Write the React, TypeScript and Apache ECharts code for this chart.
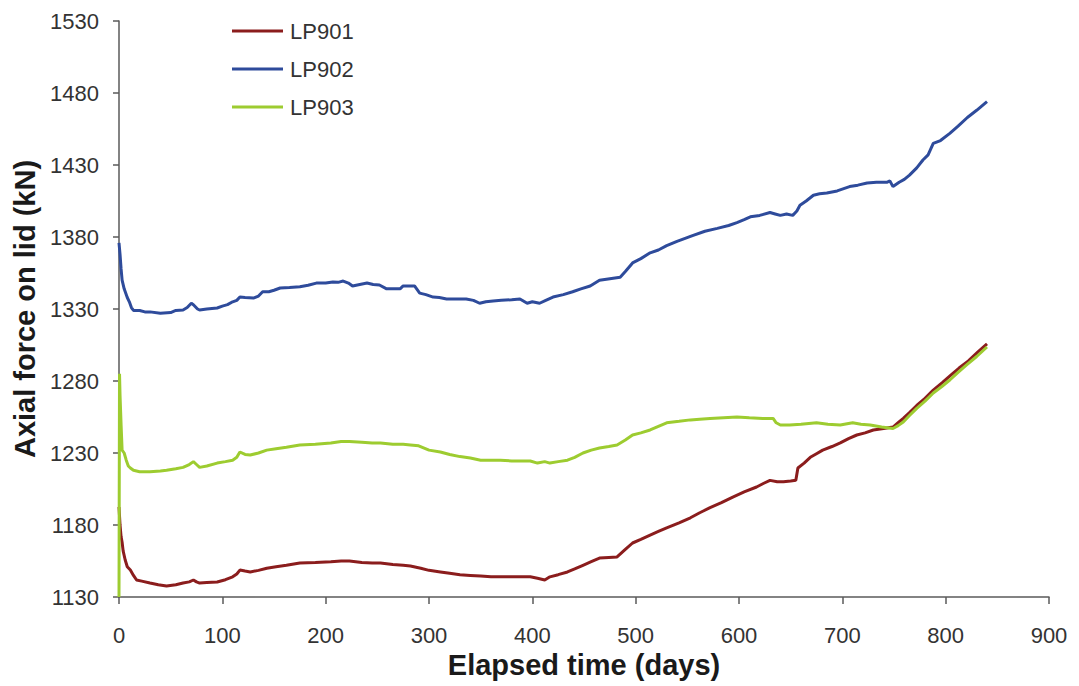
import React, { useEffect, useRef } from "react";
import * as echarts from "echarts";

const seriesNames = ["LP901", "LP902", "LP903"];
const xTicks = [0, 100, 200, 300, 400, 500, 600, 700, 800, 900];
const yTicks = [1130, 1180, 1230, 1280, 1330, 1380, 1430, 1480, 1530];

const lp901: number[][] = [
  [0, 1192.5], [1, 1180], [2, 1172], [3, 1168], [4, 1162], [6, 1155.7], [8, 1151], [11, 1148.7], [14, 1145], [17, 1141.8],
  [22, 1141], [30, 1139.7], [38, 1138.5], [46, 1137.6], [55, 1138.5], [62, 1139.7], [68, 1140.5], [72, 1141.8], [75, 1140.5],
  [78, 1139.7], [85, 1140], [95, 1140.4], [103, 1142], [110, 1144], [114, 1146], [117, 1148.7], [122, 1148], [127, 1147.4],
  [135, 1148.5], [143, 1150], [152, 1151], [162, 1152], [175, 1153.6], [190, 1154], [205, 1154.5], [215, 1155], [223, 1155],
  [235, 1154], [245, 1153.6], [253, 1153.6], [265, 1152.5], [275, 1152], [282, 1151.5], [292, 1150], [300, 1148.5],
  [311, 1147.4], [320, 1146.5], [330, 1145.5], [340, 1145], [350, 1144.5], [360, 1144], [369, 1144], [380, 1144],
  [390, 1144], [398, 1144], [405, 1143], [412, 1141.8], [417, 1144], [425, 1145.5], [434, 1147.4], [441, 1149.5],
  [449, 1152], [457, 1154.5], [465, 1157], [474, 1157.5], [482, 1157.8], [490, 1163], [497, 1167.5], [505, 1170],
  [514, 1173], [522, 1175.5], [530, 1178], [542, 1181.5], [553, 1185], [562, 1188.5], [572, 1192], [583, 1195.5],
  [594, 1199.4], [605, 1203], [617, 1206.4], [624, 1209], [630, 1211], [637, 1210], [643, 1210], [650, 1210.5],
  [655, 1211], [657, 1219.6], [663, 1223], [669, 1227], [675, 1229.5], [681, 1232], [690, 1234.5], [698, 1237],
  [706, 1240], [714, 1242.5], [722, 1244], [730, 1246], [740, 1247], [749, 1248], [754, 1251], [759, 1254], [765, 1258],
  [772, 1263], [780, 1268], [788, 1273.7], [797, 1279], [805, 1284], [813, 1289], [822, 1294], [831, 1300], [840, 1305.7],
];

const lp902: number[][] = [
  [0, 1376], [1, 1368], [2, 1358], [3, 1350], [5, 1344], [8, 1338], [10, 1335], [12, 1331], [14, 1329], [20, 1329],
  [25, 1328], [30, 1328], [40, 1327], [50, 1327.5], [55, 1329], [62, 1329.3], [66, 1331], [70, 1334], [72, 1333],
  [76, 1330], [78, 1329.3], [85, 1330], [95, 1330.7], [100, 1332], [105, 1333], [110, 1335], [114, 1336], [117, 1338.3],
  [122, 1338], [130, 1337.6], [135, 1339], [139, 1342], [145, 1342], [150, 1343], [156, 1344.6], [165, 1345],
  [175, 1345.5], [183, 1346.5], [191, 1348], [200, 1348], [207, 1348.8], [212, 1348.5], [217, 1349.4], [222, 1348],
  [226, 1346], [233, 1347], [240, 1348], [246, 1347], [252, 1346.7], [259, 1344], [265, 1344], [272, 1344], [275, 1346],
  [286, 1346], [291, 1341], [297, 1340], [304, 1338.3], [310, 1338], [317, 1337], [325, 1337], [336, 1337], [343, 1336],
  [349, 1334], [355, 1335], [362, 1335.6], [370, 1336], [380, 1336.5], [388, 1337], [395, 1334], [400, 1335],
  [407, 1334], [413, 1336], [420, 1338.3], [430, 1340], [439, 1342], [447, 1344], [456, 1346], [465, 1350],
  [475, 1351], [485, 1352], [490, 1356], [497, 1362], [505, 1365], [514, 1369], [522, 1371], [530, 1374], [540, 1377],
  [555, 1381], [567, 1384], [579, 1386], [590, 1388], [598, 1390], [605, 1392], [611, 1394], [620, 1395], [630, 1397],
  [635, 1396], [640, 1395], [646, 1396], [652, 1395], [656, 1398], [659, 1402], [665, 1405], [672, 1409], [678, 1410],
  [685, 1410.5], [695, 1412], [707, 1415], [715, 1416], [724, 1417.5], [733, 1418], [743, 1418], [746, 1419],
  [749, 1415], [755, 1418], [760, 1420], [765, 1423], [772, 1428], [778, 1433.5], [783, 1437], [788, 1445],
  [795, 1447], [804, 1452], [812, 1457], [821, 1463], [830, 1468], [840, 1474],
];

const lp903: number[][] = [
  [0, 1130], [0.5, 1285], [1, 1270], [2, 1250], [3, 1232], [5, 1230], [7, 1225], [9, 1221], [11, 1219.6], [14, 1218],
  [20, 1217], [30, 1217], [40, 1217.5], [46, 1218], [55, 1219], [62, 1220], [68, 1222], [72, 1224], [75, 1222],
  [78, 1220], [85, 1221], [95, 1223], [103, 1224], [110, 1225], [114, 1227], [117, 1230.7], [122, 1229], [127, 1228.6],
  [135, 1230], [143, 1232], [152, 1233], [162, 1234], [175, 1235.6], [190, 1236], [205, 1237], [215, 1238], [223, 1238],
  [235, 1237.5], [245, 1237], [253, 1237], [265, 1236], [275, 1236], [282, 1235.6], [290, 1235], [300, 1232],
  [311, 1230.7], [320, 1229], [330, 1227.5], [340, 1226.5], [350, 1225], [360, 1225], [369, 1225], [380, 1224.5],
  [390, 1224.5], [398, 1224.4], [405, 1223], [412, 1224], [417, 1223], [425, 1224], [434, 1225], [441, 1227],
  [449, 1230], [457, 1232], [465, 1233.5], [474, 1234.5], [482, 1235.6], [490, 1239], [497, 1242.5], [505, 1244],
  [514, 1246], [522, 1248.5], [530, 1251], [542, 1252], [553, 1253], [562, 1253.5], [572, 1254], [585, 1254.5],
  [598, 1255], [610, 1254.5], [623, 1254], [633, 1254], [636, 1251], [640, 1249.4], [649, 1249.4], [660, 1250],
  [675, 1251], [686, 1250], [698, 1249.4], [710, 1251], [718, 1250], [727, 1249.4], [738, 1248], [749, 1247],
  [754, 1249], [759, 1251.5], [765, 1256], [772, 1261], [780, 1266], [788, 1271.7], [796, 1276], [804, 1280.7],
  [812, 1286], [820, 1291], [830, 1297], [840, 1303.6],
];

const colors = ["#8b1d1d", "#2e4b9b", "#9dcc30"];

export default function App() {
  const ref = useRef<HTMLDivElement>(null);
  useEffect(() => {
    if (!ref.current) return;
    const chart = echarts.init(ref.current, null, { renderer: "svg" });
    const font = "'Liberation Sans', Arial, sans-serif";
    const axisColor = "#5a5a5a";
    const dataSets = [lp901, lp902, lp903];
    chart.setOption({
      animation: false,
      backgroundColor: "#ffffff",
      grid: { left: 119, right: 30, top: 21, bottom: 89, containLabel: false },
      legend: {
        orient: "vertical",
        left: 232,
        top: 20,
        padding: 0,
        itemWidth: 51,
        itemHeight: 3,
        itemGap: 16,
        icon: "rect",
        data: seriesNames,
        textStyle: { fontFamily: font, fontSize: 22, color: "#333", padding: [0, 0, 0, 2] },
      },
      xAxis: {
        type: "value",
        min: 0,
        max: 900,
        interval: 100,
        name: "Elapsed time (days)",
        nameLocation: "middle",
        nameGap: 52,
        nameTextStyle: { fontFamily: font, fontSize: 29, fontWeight: "bold", color: "#1a1a1a" },
        axisLine: { lineStyle: { color: axisColor, width: 1.5 } },
        axisTick: { show: true, inside: false, length: 7, lineStyle: { color: axisColor, width: 1.5 } },
        axisLabel: {
          fontFamily: font, fontSize: 22, color: "#333", margin: 27, customValues: xTicks,
          formatter: (v: number) => String(v),
        },
        splitLine: { show: false },
      },
      yAxis: {
        type: "value",
        min: 1130,
        max: 1530,
        name: "Axial force on lid (kN)",
        nameLocation: "middle",
        nameGap: 80,
        nameTextStyle: { fontFamily: font, fontSize: 29, fontWeight: "bold", color: "#1a1a1a" },
        axisLine: { show: true, lineStyle: { color: axisColor, width: 1.5 } },
        axisTick: { show: true, inside: false, length: 6, customValues: yTicks, lineStyle: { color: axisColor, width: 1.5 } },
        axisLabel: {
          fontFamily: font, fontSize: 22, color: "#333", margin: 20, customValues: yTicks,
          formatter: (v: number) => String(v),
        },
        splitLine: { show: false },
      },
      series: seriesNames.map((name, i) => ({
        name,
        type: "line",
        data: dataSets[i],
        showSymbol: false,
        symbol: "none",
        color: colors[i],
        lineStyle: { color: colors[i], width: 3 },
        z: 2 + i,
      })),
    });
    return () => chart.dispose();
  }, []);
  return (
    <div
      ref={ref}
      style={{ position: "fixed", left: 0, top: 0, width: 1079, height: 686 }}
    />
  );
}
